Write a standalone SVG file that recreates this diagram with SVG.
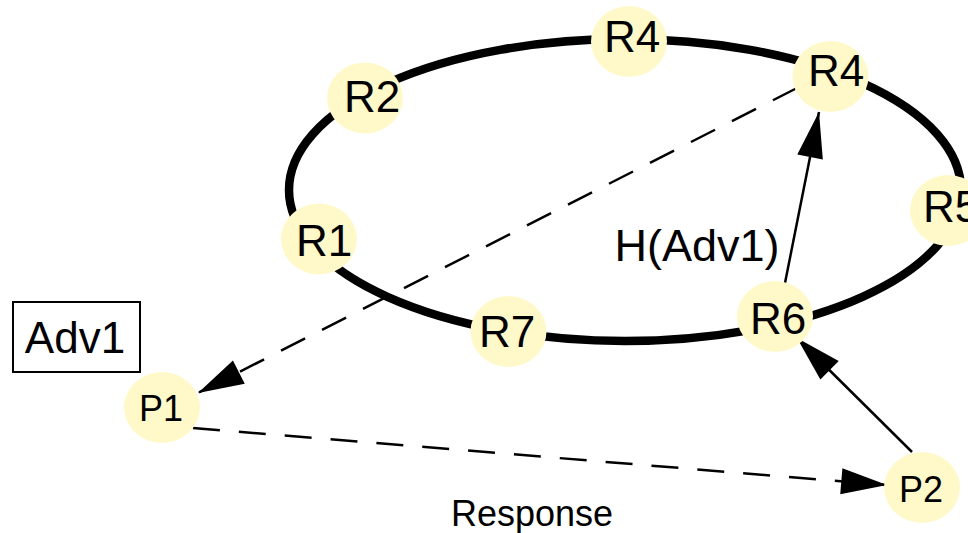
<svg xmlns="http://www.w3.org/2000/svg" width="968" height="533" viewBox="0 0 968 533">
<defs>
<style>
.node{fill:#FFF9CA;stroke:none}
.lbl{font-family:"Liberation Sans",Arial,sans-serif;font-size:44px;fill:#000;text-anchor:middle}
.plbl{font-family:"Liberation Sans",Arial,sans-serif;font-size:36px;fill:#000;text-anchor:middle}
.edge{fill:none;stroke:#000;stroke-width:2.5}
.dash{stroke-dasharray:27 19}
</style>
<marker id="arr" markerUnits="userSpaceOnUse" markerWidth="50" markerHeight="30" viewBox="-46 -14 48 28" refX="0" refY="0" orient="auto">
<path d="M0,0 L-44,-12.5 L-44,12.5 Z" fill="#000"/>
</marker>
</defs>
<rect width="968" height="533" fill="#fff"/>
<g id="ring">
<ellipse cx="625" cy="190" rx="336" ry="151" fill="none" stroke="#000" stroke-width="8.5"/>
</g>
<g id="connectors">
<line class="edge dash" x1="797" y1="88" x2="198" y2="393" marker-end="url(#arr)"/>
<line class="edge dash" x1="193" y1="428" x2="887" y2="485" marker-end="url(#arr)"/>
<line class="edge" x1="785" y1="283" x2="819" y2="112" marker-end="url(#arr)"/>
<line class="edge" x1="912" y1="452" x2="797" y2="338" marker-end="url(#arr)"/>
<text class="lbl" x="697" y="261" style="font-size:45px">H(Adv1)</text>
<text class="plbl" x="532" y="526">Response</text>
</g>
<g id="R4a"><ellipse class="node" cx="629" cy="41.5" rx="38" ry="35.5"/><text class="lbl" x="632" y="52">R4</text></g>
<g id="R2"><ellipse class="node" cx="365" cy="98" rx="38" ry="35.5"/><text class="lbl" x="372" y="112">R2</text></g>
<g id="R4b"><ellipse class="node" cx="830.5" cy="76.5" rx="38" ry="35.5"/><text class="lbl" x="836" y="86">R4</text></g>
<g id="R5"><ellipse class="node" cx="948" cy="210.5" rx="38" ry="35.5"/><text class="lbl" x="951" y="222">R5</text></g>
<g id="R1"><ellipse class="node" cx="319" cy="239" rx="38" ry="35.5"/><text class="lbl" x="324" y="256">R1</text></g>
<g id="R7"><ellipse class="node" cx="508.5" cy="331.5" rx="38" ry="35.5"/><text class="lbl" x="507" y="347">R7</text></g>
<g id="R6"><ellipse class="node" cx="775" cy="316.5" rx="38" ry="35.5"/><text class="lbl" x="778" y="334">R6</text></g>
<g id="P1"><ellipse class="node" cx="162" cy="407.5" rx="38" ry="35.5"/><text class="plbl" x="161" y="421">P1</text></g>
<g id="P2"><ellipse class="node" cx="922" cy="487.5" rx="38" ry="35.5"/><text class="plbl" x="921" y="502">P2</text></g>
<g id="Adv1"><rect x="13" y="302" width="127" height="70" fill="#fff" stroke="#000" stroke-width="2"/><text class="lbl" x="75" y="353">Adv1</text></g>
</svg>
